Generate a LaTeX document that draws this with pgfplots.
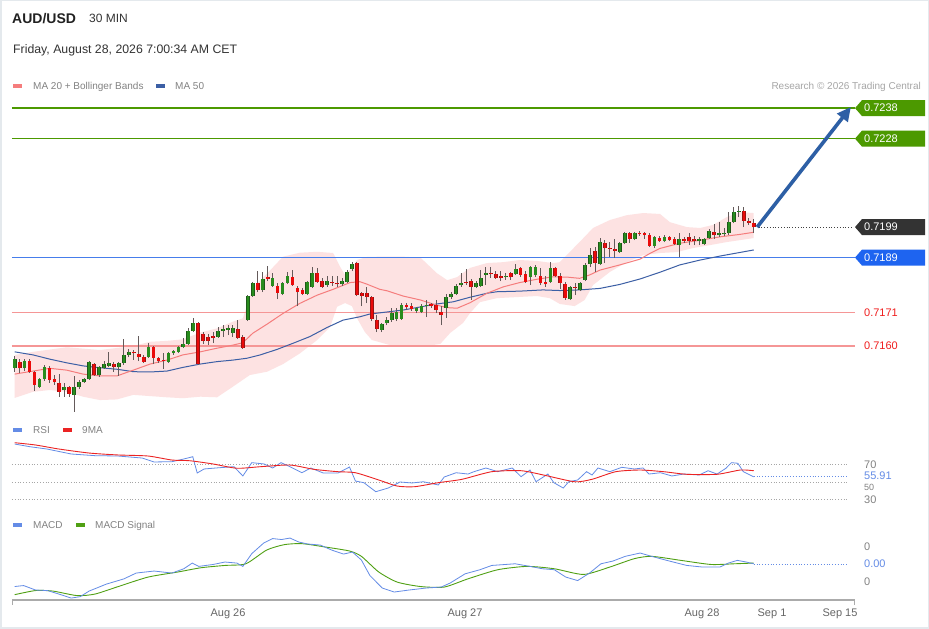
\documentclass[border=0pt]{standalone}
\usepackage{fontspec}
\setmainfont{Liberation Sans}
\usepackage{pgfplots}
\pgfplotsset{compat=1.18}
\usepackage{pgfplotstable}
\usetikzlibrary{arrows.meta}

\definecolor{cgreen}{RGB}{40,140,30}
\definecolor{cgreenD}{RGB}{30,90,25}
\definecolor{cred}{RGB}{235,10,10}
\definecolor{credD}{RGB}{150,20,20}
\definecolor{wickc}{RGB}{100,90,90}
\definecolor{ma20}{RGB}{245,125,125}
\definecolor{ma50}{RGB}{60,95,165}
\definecolor{bbfill}{RGB}{253,226,226}
\definecolor{lvgreen}{RGB}{76,153,0}
\definecolor{lvblue}{RGB}{30,100,240}
\definecolor{lvblueline}{RGB}{70,125,235}
\definecolor{lvred}{RGB}{245,150,150}
\definecolor{lvredtxt}{RGB}{240,30,30}
\definecolor{lvdark}{RGB}{51,51,51}
\definecolor{arrowblue}{RGB}{45,95,165}
\definecolor{rsiblue}{RGB}{100,140,230}
\definecolor{ma9}{RGB}{235,35,35}
\definecolor{sigGreen}{RGB}{80,160,20}
\definecolor{txtgray}{RGB}{130,130,130}
\definecolor{axgray}{RGB}{102,102,102}
\definecolor{framegray}{RGB}{228,233,237}

\pgfplotstableread{
i o h l c
1 0.71528 0.71568 0.71515 0.71558
2 0.71548 0.71558 0.71512 0.71528
3 0.71528 0.71558 0.71518 0.71551
4 0.71551 0.71558 0.71512 0.71515
5 0.71515 0.71518 0.71453 0.71473
6 0.71466 0.71496 0.71463 0.71492
7 0.71492 0.71538 0.71486 0.71532
8 0.71528 0.71535 0.71479 0.71489
9 0.71492 0.71505 0.71473 0.71482
10 0.71479 0.71509 0.71433 0.71450
11 0.71456 0.71479 0.71433 0.71466
12 0.71466 0.71469 0.71433 0.71443
13 0.71440 0.71502 0.71384 0.71466
14 0.71466 0.71489 0.71460 0.71482
15 0.71482 0.71496 0.71479 0.71492
16 0.71492 0.71551 0.71489 0.71548
17 0.71541 0.71545 0.71502 0.71505
18 0.71505 0.71535 0.71499 0.71532
19 0.71528 0.71551 0.71525 0.71541
20 0.71535 0.71581 0.71532 0.71545
21 0.71541 0.71548 0.71515 0.71532
22 0.71532 0.71548 0.71502 0.71545
23 0.71545 0.71623 0.71538 0.71571
24 0.71571 0.71591 0.71564 0.71581
25 0.71581 0.71587 0.71555 0.71577
26 0.71574 0.71633 0.71551 0.71564
27 0.71564 0.71571 0.71545 0.71548
28 0.71564 0.71610 0.71561 0.71597
29 0.71597 0.71600 0.71541 0.71561
30 0.71561 0.71564 0.71545 0.71551
31 0.71555 0.71577 0.71525 0.71551
32 0.71548 0.71581 0.71545 0.71577
33 0.71577 0.71587 0.71571 0.71584
34 0.71581 0.71600 0.71577 0.71597
35 0.71597 0.71627 0.71594 0.71607
36 0.71607 0.71659 0.71604 0.71649
37 0.71649 0.71692 0.71646 0.71676
38 0.71676 0.71679 0.71538 0.71541
39 0.71640 0.71646 0.71607 0.71617
40 0.71630 0.71640 0.71604 0.71617
41 0.71633 0.71646 0.71610 0.71627
42 0.71630 0.71663 0.71627 0.71649
43 0.71649 0.71669 0.71630 0.71656
44 0.71653 0.71669 0.71636 0.71659
45 0.71643 0.71669 0.71630 0.71659
46 0.71656 0.71686 0.71623 0.71627
47 0.71630 0.71636 0.71591 0.71594
48 0.71686 0.71767 0.71682 0.71764
49 0.71764 0.71810 0.71761 0.71807
50 0.71807 0.71846 0.71777 0.71784
51 0.71784 0.71843 0.71777 0.71820
52 0.71826 0.71862 0.71813 0.71820
53 0.71797 0.71839 0.71794 0.71823
54 0.71797 0.71807 0.71754 0.71774
55 0.71771 0.71810 0.71767 0.71807
56 0.71807 0.71843 0.71803 0.71830
57 0.71826 0.71849 0.71797 0.71800
58 0.71790 0.71797 0.71731 0.71777
59 0.71784 0.71790 0.71767 0.71771
60 0.71771 0.71813 0.71767 0.71810
61 0.71794 0.71859 0.71790 0.71839
62 0.71839 0.71856 0.71807 0.71810
63 0.71813 0.71823 0.71790 0.71794
64 0.71800 0.71830 0.71794 0.71813
65 0.71810 0.71830 0.71797 0.71807
66 0.71807 0.71830 0.71794 0.71803
67 0.71803 0.71823 0.71797 0.71813
68 0.71810 0.71849 0.71807 0.71843
69 0.71853 0.71875 0.71846 0.71869
70 0.71872 0.71875 0.71764 0.71767
71 0.71774 0.71777 0.71731 0.71764
72 0.71774 0.71794 0.71741 0.71761
73 0.71761 0.71764 0.71682 0.71689
74 0.71686 0.71702 0.71646 0.71656
75 0.71653 0.71676 0.71646 0.71672
76 0.71676 0.71695 0.71669 0.71686
77 0.71686 0.71725 0.71679 0.71708
78 0.71689 0.71725 0.71682 0.71712
79 0.71689 0.71741 0.71686 0.71735
80 0.71735 0.71741 0.71718 0.71728
81 0.71731 0.71741 0.71715 0.71722
82 0.71715 0.71728 0.71708 0.71725
83 0.71712 0.71738 0.71708 0.71731
84 0.71731 0.71751 0.71695 0.71735
85 0.71738 0.71741 0.71725 0.71731
86 0.71735 0.71751 0.71708 0.71718
87 0.71712 0.71731 0.71669 0.71702
88 0.71725 0.71771 0.71692 0.71761
89 0.71761 0.71777 0.71754 0.71771
90 0.71771 0.71803 0.71767 0.71797
91 0.71800 0.71839 0.71794 0.71807
92 0.71810 0.71853 0.71800 0.71807
93 0.71813 0.71820 0.71751 0.71794
94 0.71794 0.71813 0.71790 0.71807
95 0.71797 0.71849 0.71794 0.71823
96 0.71833 0.71859 0.71800 0.71839
97 0.71839 0.71859 0.71823 0.71836
98 0.71836 0.71846 0.71820 0.71823
99 0.71830 0.71846 0.71813 0.71823
100 0.71826 0.71839 0.71817 0.71830
101 0.71839 0.71843 0.71817 0.71826
102 0.71836 0.71869 0.71833 0.71853
103 0.71856 0.71859 0.71826 0.71833
104 0.71836 0.71846 0.71807 0.71810
105 0.71826 0.71862 0.71800 0.71859
106 0.71833 0.71866 0.71826 0.71859
107 0.71830 0.71856 0.71800 0.71807
108 0.71810 0.71830 0.71794 0.71803
109 0.71810 0.71875 0.71807 0.71856
110 0.71856 0.71859 0.71826 0.71830
111 0.71830 0.71839 0.71787 0.71807
112 0.71803 0.71810 0.71751 0.71758
113 0.71754 0.71797 0.71751 0.71794
114 0.71794 0.71807 0.71767 0.71790
115 0.71784 0.71810 0.71780 0.71807
116 0.71817 0.71872 0.71813 0.71866
117 0.71869 0.71921 0.71859 0.71898
118 0.71911 0.71925 0.71843 0.71872
119 0.71869 0.71954 0.71866 0.71941
120 0.71938 0.71947 0.71872 0.71921
121 0.71921 0.71941 0.71892 0.71918
122 0.71918 0.71951 0.71889 0.71911
123 0.71908 0.71941 0.71905 0.71938
124 0.71938 0.71974 0.71934 0.71970
125 0.71970 0.71974 0.71938 0.71951
126 0.71951 0.71974 0.71947 0.71970
127 0.71970 0.71977 0.71961 0.71967
128 0.71970 0.71974 0.71951 0.71964
129 0.71964 0.71970 0.71925 0.71928
130 0.71928 0.71961 0.71921 0.71957
131 0.71954 0.71961 0.71941 0.71944
132 0.71944 0.71964 0.71941 0.71957
133 0.71957 0.71961 0.71944 0.71947
134 0.71951 0.71957 0.71931 0.71934
135 0.71931 0.71970 0.71892 0.71951
136 0.71951 0.71957 0.71938 0.71944
137 0.71957 0.71970 0.71931 0.71944
138 0.71951 0.71961 0.71931 0.71944
139 0.71944 0.71957 0.71931 0.71951
140 0.71934 0.71954 0.71931 0.71951
141 0.71954 0.71983 0.71951 0.71977
142 0.71974 0.72000 0.71951 0.71964
143 0.71964 0.72006 0.71957 0.71970
144 0.71967 0.71987 0.71961 0.71970
145 0.71970 0.72039 0.71964 0.72006
146 0.72006 0.72056 0.72003 0.72039
147 0.72039 0.72059 0.72023 0.72042
148 0.72042 0.72056 0.71990 0.72010
149 0.72010 0.72020 0.71997 0.72003
150 0.72003 0.72016 0.71970 0.71990
}\candles

\pgfplotstableread{
i v
1 0.71581
4.7 0.71571
8.1 0.71557
11.5 0.71545
14.8 0.71535
18.2 0.71529
21.6 0.71524
24.9 0.71516
28.3 0.71515
31.7 0.71518
34.9 0.71530
38.4 0.71541
41.8 0.71549
45.0 0.71554
47.8 0.71560
50.5 0.71571
53.9 0.71589
57.1 0.71609
60.5 0.71631
64.0 0.71661
67.2 0.71685
70.6 0.71696
72.6 0.71705
79.3 0.71718
86.1 0.71738
89.4 0.71745
92.8 0.71760
96.2 0.71773
98.2 0.71778
102.8 0.71780
107.5 0.71784
110.9 0.71782
114.9 0.71784
119.0 0.71789
123.0 0.71802
127.1 0.71820
131.1 0.71842
135.1 0.71866
139.2 0.71882
143.2 0.71895
150 0.71915
}\mafifty

\pgfplotstableread{
i v
1 0.71508
4.7 0.71518
8.1 0.71527
11.5 0.71521
14.8 0.71508
18.2 0.71502
21.6 0.71502
24.9 0.71521
28.3 0.71541
31.7 0.71554
34.9 0.71571
38.4 0.71581
41.8 0.71593
45.0 0.71603
47.0 0.71611
49.0 0.71642
51.9 0.71672
55.1 0.71707
58.5 0.71740
62.0 0.71767
65.2 0.71786
68.6 0.71808
70.6 0.71811
72.0 0.71803
74.6 0.71786
76.1 0.71781
79.3 0.71764
82.8 0.71751
86.1 0.71734
88.2 0.71726
90.2 0.71724
92.8 0.71742
96.2 0.71773
99.5 0.71794
102.8 0.71808
106.3 0.71819
109.5 0.71827
112.4 0.71826
114.9 0.71822
116.9 0.71833
119.0 0.71849
123.0 0.71866
127.1 0.71885
129.1 0.71904
131.1 0.71920
135.1 0.71937
139.2 0.71947
143.2 0.71958
147.2 0.71966
150 0.71973
}\matwenty

% Bollinger envelope: upper band forward, then lower band backward
\pgfplotstableread{
i v
1 0.71571
4.7 0.71581
11.5 0.71596
18.2 0.71587
24.9 0.71600
28.3 0.71614
31.7 0.71617
34.9 0.71622
38.4 0.71644
41.8 0.71658
45.0 0.71680
47.0 0.71691
48.0 0.71740
49.0 0.71790
51.9 0.71838
55.1 0.71893
58.5 0.71906
62.0 0.71909
65.2 0.71905
66.6 0.71860
67.6 0.71833
69.0 0.71856
70.0 0.71882
72.0 0.71892
74.6 0.71893
79.3 0.71893
82.8 0.71890
86.1 0.71839
88.2 0.71816
90.2 0.71826
92.8 0.71856
96.2 0.71872
99.5 0.71875
102.8 0.71882
106.3 0.71879
109.5 0.71872
110.9 0.71875
114.9 0.71941
117.6 0.71987
121.0 0.72013
124.4 0.72029
127.7 0.72036
131.1 0.72033
133.1 0.72006
136.5 0.71990
139.2 0.71987
141.8 0.71997
144.6 0.72023
147.2 0.72039
150 0.72036
150 0.71954
144.6 0.71941
141.2 0.71931
137.7 0.71921
134.5 0.71908
131.1 0.71905
127.7 0.71898
124.4 0.71875
121.0 0.71843
117.6 0.71800
115.9 0.71751
113.9 0.71731
110.9 0.71738
108.9 0.71757
106.3 0.71764
102.8 0.71761
98.2 0.71757
94.8 0.71744
92.8 0.71708
91.4 0.71676
88.8 0.71643
86.8 0.71607
82.8 0.71597
76.7 0.71603
73.0 0.71620
71.6 0.71646
70.0 0.71692
69.0 0.71731
67.6 0.71741
66.0 0.71729
64.6 0.71663
62.0 0.71620
58.5 0.71576
55.1 0.71541
51.9 0.71516
48.4 0.71505
45.0 0.71467
41.8 0.71432
38.4 0.71434
34.9 0.71429
31.7 0.71432
28.3 0.71436
24.9 0.71440
21.6 0.71425
18.2 0.71423
14.8 0.71434
11.5 0.71450
8.1 0.71456
4.7 0.71450
1 0.71430
}\bbenv

\pgfplotstableread{
i v
1 93.4
4.1 90.3
7.5 87.7
12.4 82.0
17.2 80.1
21.8 79.7
26.7 77.4
29.1 72.9
32.7 73.2
35.1 76.3
36.9 78.9
37.8 60.3
39.2 64.9
42.2 66.3
45.2 67.5
47.0 56.9
48.8 72.1
51.3 70.6
53.0 66.0
54.7 72.1
56.5 67.5
58.9 60.6
60.7 66.0
63.2 60.3
66.2 60.3
68.5 67.1
69.7 51.1
71.4 49.2
73.8 38.9
76.3 43.1
78.7 50.0
81.1 48.9
83.4 50.3
86.4 46.6
87.6 55.7
90.0 60.6
92.4 59.1
93.6 61.8
96.0 66.0
98.4 61.8
101.3 66.0
103.1 56.1
104.9 63.7
106.1 50.3
108.5 59.1
109.7 49.2
111.6 43.1
112.7 50.3
114.5 52.3
116.3 61.8
117.4 58.0
118.6 66.0
121.0 61.8
123.4 66.8
125.9 64.9
127.7 66.0
128.9 59.1
131.2 60.6
133.5 56.9
135.9 59.1
139.0 58.0
140.8 62.9
142.6 59.1
144.4 65.7
145.5 72.1
146.8 71.4
147.9 61.8
150 55.91
}\rsi

\pgfplotstableread{
i v
1 94.9
5.2 92.3
9.9 87.7
16.0 83.1
21.8 80.9
27.9 79.7
32.7 75.1
36.3 74.3
41.0 70.6
45.8 65.7
50.6 67.5
56.5 69.4
61.3 64.5
66.1 61.8
69.7 60.6
74.4 52.3
78.1 45.4
81.6 44.6
86.4 49.2
91.2 53.1
97.2 61.8
103.1 62.9
107.6 58.0
113.9 50.3
117.4 53.1
122.2 61.8
127.1 63.7
131.8 61.8
136.5 58.8
142.6 58.8
147.3 63.7
150 62.9
}\ninema

\pgfplotstableread{
i v
1 -0.000257
2.8 -0.000246
5.2 -0.000297
7.6 -0.000303
9.9 -0.000343
12.4 -0.000389
14.2 -0.000373
16.0 -0.000309
19.5 -0.000229
23.0 -0.000170
25.5 -0.000103
29.1 -0.000080
32.7 -0.000103
35.1 -0.000054
36.8 0.000011
38.1 -0.000027
41.0 -0.000005
43.4 0.000023
45.8 0.000011
47.0 -0.000027
48.8 0.000119
51.2 0.000240
53.0 0.000291
54.8 0.000280
56.5 0.000297
58.3 0.000251
60.1 0.000229
62.6 0.000217
64.9 0.000160
67.3 0.000114
69.1 0.000137
70.9 0.000046
72.6 -0.000130
75.1 -0.000274
77.5 -0.000320
80.5 -0.000297
84.0 -0.000274
87.0 -0.000263
88.8 -0.000217
91.8 -0.000112
94.8 -0.000065
97.2 -0.000016
101.9 0.000003
104.9 -0.000027
107.4 -0.000054
109.8 -0.000065
112.1 -0.000149
114.5 -0.000189
116.9 -0.000103
119.2 0.000003
121.6 0.000034
124.1 0.000088
127.1 0.000126
129.4 0.000088
133.0 0.000034
136.5 -0.000016
139.6 -0.000034
143.2 -0.000034
144.9 0.000011
146.7 0.000042
148.5 0.000023
150 0.000003
}\macd

\pgfplotstableread{
i v
1 -0.000350
5.2 -0.000303
8.7 -0.000309
13.6 -0.000361
17.2 -0.000343
21.9 -0.000257
27.9 -0.000149
33.9 -0.000091
38.6 -0.000042
43.4 -0.000016
47.6 0.000003
51.8 0.000160
55.4 0.000222
58.9 0.000233
63.7 0.000194
68.5 0.000149
70.9 0.000088
74.4 -0.000091
78.1 -0.000206
82.8 -0.000257
87.6 -0.000263
92.4 -0.000169
98.4 -0.000065
104.3 -0.000027
109.8 -0.000054
115.7 -0.000119
121.0 -0.000034
125.9 0.000061
129.4 0.000088
135.3 0.000042
141.4 -0.000005
146.1 0.000003
150 0.000011
}\signal

\begin{document}
\begin{tikzpicture}
\useasboundingbox (0pt,0pt) rectangle (929pt,629pt);
\fill[white] (0pt,0pt) rectangle (929pt,629pt);
\draw[framegray, line width=1.5pt] (0.75pt,0.75pt) rectangle (928.25pt,628.25pt);

% header
\node[anchor=base west, inner sep=0pt, font=\fontsize{14}{16}\selectfont\bfseries, text=black!87] at (12pt,605pt) {AUD/USD};
\node[anchor=base west, inner sep=0pt, font=\fontsize{12}{14}\selectfont, text=black!80] at (89pt,606.3pt) {30 MIN};
\node[anchor=base west, inner sep=0pt, font=\fontsize{12.3}{14}\selectfont, text=black!80] at (13pt,575.7pt) {Friday, August 28, 2026 7:00:34 AM CET};

% legend main
\fill[ma20] (13pt,541pt) rectangle (22pt,544.5pt);
\node[anchor=base west, inner sep=0pt, font=\fontsize{10}{12}\selectfont, text=txtgray] at (33pt,539pt) {MA 20 + Bollinger Bands};
\fill[ma50] (156pt,541pt) rectangle (165pt,544.5pt);
\node[anchor=base west, inner sep=0pt, font=\fontsize{10}{12}\selectfont, text=txtgray] at (175pt,539pt) {MA 50};
\node[anchor=base east, inner sep=0pt, font=\fontsize{10}{12}\selectfont, text=black!35] at (921pt,539pt) {Research © 2026 Trading Central};

% legend RSI
\fill[rsiblue] (13pt,197pt) rectangle (22pt,200.5pt);
\node[anchor=base west, inner sep=0pt, font=\fontsize{10}{12}\selectfont, text=txtgray] at (33pt,195pt) {RSI};
\fill[ma9] (63pt,197pt) rectangle (72pt,200.5pt);
\node[anchor=base west, inner sep=0pt, font=\fontsize{10}{12}\selectfont, text=txtgray] at (82pt,195pt) {9MA};

% legend MACD
\fill[rsiblue] (13pt,102pt) rectangle (22pt,105.5pt);
\node[anchor=base west, inner sep=0pt, font=\fontsize{10}{12}\selectfont, text=txtgray] at (33pt,100pt) {MACD};
\fill[sigGreen] (76pt,102pt) rectangle (85pt,105.5pt);
\node[anchor=base west, inner sep=0pt, font=\fontsize{10}{12}\selectfont, text=txtgray] at (95pt,100pt) {MACD Signal};

% x axis labels (absolute placement under the bottom axis line at y=29pt)
\node[anchor=center, inner sep=0pt, text=axgray, font=\fontsize{11}{13}\selectfont] at (228pt,15pt) {Aug 26};
\node[anchor=center, inner sep=0pt, text=axgray, font=\fontsize{11}{13}\selectfont] at (465pt,15pt) {Aug 27};
\node[anchor=center, inner sep=0pt, text=axgray, font=\fontsize{11}{13}\selectfont] at (702pt,15pt) {Aug 28};
\node[anchor=center, inner sep=0pt, text=axgray, font=\fontsize{11}{13}\selectfont] at (772pt,15pt) {Sep 1};
\node[anchor=center, inner sep=0pt, text=axgray, font=\fontsize{11}{13}\selectfont] at (840pt,15pt) {Sep 15};
\draw[black!33, line width=1.4pt] (12pt,29pt) -- (855pt,29pt);
\draw[black!33, line width=1.4pt] (12.7pt,29pt) -- (12.7pt,24pt);
\draw[black!33, line width=1.4pt] (854.3pt,29pt) -- (854.3pt,24pt);

% ---------------- main price panel
\begin{axis}[at={(12pt,214pt)}, anchor=south west, scale only axis,
  width=843pt, height=320pt, xmin=0.456, xmax=170.42,
  ymin=0.71374, ymax=0.72423, hide axis, clip=false]
\addplot[fill=bbfill, draw=none] table[x=i,y=v]{\bbenv};

\addplot[lvgreen, line width=2pt] coordinates {(0.456,0.7238) (170.42,0.7238)};
\addplot[lvgreen, line width=1.6pt] coordinates {(0.456,0.7228) (170.42,0.7228)};
\addplot[lvblueline, line width=1.2pt] coordinates {(0.456,0.7189) (170.42,0.7189)};
\addplot[lvred, line width=1.2pt] coordinates {(0.456,0.7171) (170.42,0.7171)};
\addplot[lvred, line width=1.2pt] coordinates {(0.456,0.7160) (170.42,0.7160)};
\addplot[black!75, dotted, line width=0.8pt] coordinates {(151,0.7199) (169.8,0.7199)};

\addplot[ma50, line width=1pt] table[x=i,y=v]{\mafifty};
\addplot[ma20, line width=1pt] table[x=i,y=v]{\matwenty};

% wicks
\addplot[draw=none, mark=none, error bars/.cd, y dir=plus, y explicit, error mark=none,
  error bar style={draw=wickc, line width=0.9pt}]
  table[x=i, y=l, y error plus expr={\thisrow{h}-\thisrow{l}}]{\candles};
% green bodies
\addplot[draw=none, mark=none, error bars/.cd, y dir=plus, y explicit, error mark=none,
  error bar style={draw=cgreenD, line width=3.7pt}]
  table[x=i, y expr={\thisrow{c}>\thisrow{o} ? \thisrow{o} : nan}, y error plus expr={\thisrow{c}-\thisrow{o}}]{\candles};
\addplot[draw=none, mark=none, error bars/.cd, y dir=plus, y explicit, error mark=none,
  error bar style={draw=cgreen, line width=2.5pt}]
  table[x=i, y expr={\thisrow{c}>\thisrow{o} ? \thisrow{o} : nan}, y error plus expr={\thisrow{c}-\thisrow{o}}]{\candles};
% red bodies
\addplot[draw=none, mark=none, error bars/.cd, y dir=plus, y explicit, error mark=none,
  error bar style={draw=credD, line width=3.7pt}]
  table[x=i, y expr={\thisrow{c}<\thisrow{o} ? \thisrow{c} : nan}, y error plus expr={\thisrow{o}-\thisrow{c}}]{\candles};
\addplot[draw=none, mark=none, error bars/.cd, y dir=plus, y explicit, error mark=none,
  error bar style={draw=cred, line width=2.5pt}]
  table[x=i, y expr={\thisrow{c}<\thisrow{o} ? \thisrow{c} : nan}, y error plus expr={\thisrow{o}-\thisrow{c}}]{\candles};

% arrow
\draw[arrowblue, line width=3.6pt, -{Triangle[length=14pt,width=13pt]}] (axis cs:150.7,0.7199) -- (axis cs:169.6,0.72384);

% labels
\fill[lvgreen] (axis cs:170.42,0.7238) -- ++(7pt,8pt) -- ++(63pt,0pt) -- ++(0pt,-16pt) -- ++(-63pt,0pt) -- cycle;
\node[anchor=west, inner sep=0pt, text=white, font=\fontsize{11}{13}\selectfont] at ([xshift=9pt]axis cs:170.42,0.7238) {0.7238};
\fill[lvgreen] (axis cs:170.42,0.7228) -- ++(7pt,8pt) -- ++(63pt,0pt) -- ++(0pt,-16pt) -- ++(-63pt,0pt) -- cycle;
\node[anchor=west, inner sep=0pt, text=white, font=\fontsize{11}{13}\selectfont] at ([xshift=9pt]axis cs:170.42,0.7228) {0.7228};
\fill[lvdark] (axis cs:170.42,0.7199) -- ++(7pt,8pt) -- ++(63pt,0pt) -- ++(0pt,-16pt) -- ++(-63pt,0pt) -- cycle;
\node[anchor=west, inner sep=0pt, text=white, font=\fontsize{11}{13}\selectfont] at ([xshift=9pt]axis cs:170.42,0.7199) {0.7199};
\fill[lvblue] (axis cs:170.42,0.7189) -- ++(7pt,8pt) -- ++(63pt,0pt) -- ++(0pt,-16pt) -- ++(-63pt,0pt) -- cycle;
\node[anchor=west, inner sep=0pt, text=white, font=\fontsize{11}{13}\selectfont] at ([xshift=9pt]axis cs:170.42,0.7189) {0.7189};
\node[anchor=west, inner sep=0pt, text=lvredtxt, font=\fontsize{11}{13}\selectfont] at ([xshift=9pt]axis cs:170.42,0.7171) {0.7171};
\node[anchor=west, inner sep=0pt, text=lvredtxt, font=\fontsize{11}{13}\selectfont] at ([xshift=9pt]axis cs:170.42,0.7160) {0.7160};
\end{axis}

% ---------------- RSI panel
\begin{axis}[at={(12pt,124.25pt)}, anchor=south west, scale only axis,
  width=843pt, height=64.75pt, xmin=0.456, xmax=170.42,
  ymin=24, ymax=98, hide axis, clip=false]
\addplot[black!35, dotted, line width=0.8pt] coordinates {(0.456,70) (169,70)};
\addplot[black!35, dotted, line width=0.8pt] coordinates {(0.456,50) (169,50)};
\addplot[black!35, dotted, line width=0.8pt] coordinates {(0.456,30) (169,30)};
\addplot[rsiblue, dotted, line width=0.8pt] coordinates {(150,55.91) (169,55.91)};
\addplot[rsiblue, line width=0.8pt] table[x=i,y=v]{\rsi};
\addplot[ma9, line width=0.9pt, smooth, tension=0.4] table[x=i,y=v]{\ninema};
\node[anchor=west, inner sep=0pt, text=txtgray, font=\fontsize{11}{13}\selectfont] at ([xshift=9pt]axis cs:170.42,70) {70};
\node[anchor=west, inner sep=0pt, text=txtgray, font=\fontsize{9}{11}\selectfont] at ([xshift=9pt]axis cs:170.42,43.5) {50};
\node[anchor=west, inner sep=0pt, text=rsiblue, font=\fontsize{11}{13}\selectfont] at ([xshift=9pt]axis cs:170.42,57.4) {55.91};
\node[anchor=west, inner sep=0pt, text=txtgray, font=\fontsize{11}{13}\selectfont] at ([xshift=9pt]axis cs:170.42,30) {30};
\end{axis}

% ---------------- MACD panel
\begin{axis}[at={(12pt,29pt)}, anchor=south west, scale only axis,
  width=843pt, height=70pt, xmin=0.456, xmax=170.42,
  ymin=-0.000411, ymax=0.000389, hide axis, clip=false]
\addplot[rsiblue, dotted, line width=0.8pt] coordinates {(150,0) (169,0)};
\addplot[sigGreen, line width=0.9pt, smooth, tension=0.4] table[x=i,y=v]{\signal};
\addplot[rsiblue, line width=0.8pt] table[x=i,y=v]{\macd};
\node[anchor=west, inner sep=0pt, text=txtgray, font=\fontsize{11}{13}\selectfont] at ([xshift=9pt]axis cs:170.42,0.0002) {0};
\node[anchor=west, inner sep=0pt, text=rsiblue, font=\fontsize{11}{13}\selectfont] at ([xshift=9pt]axis cs:170.42,0) {0.00};
\node[anchor=west, inner sep=0pt, text=txtgray, font=\fontsize{11}{13}\selectfont] at ([xshift=9pt]axis cs:170.42,-0.0002) {0};
\end{axis}
\end{tikzpicture}
\end{document}
